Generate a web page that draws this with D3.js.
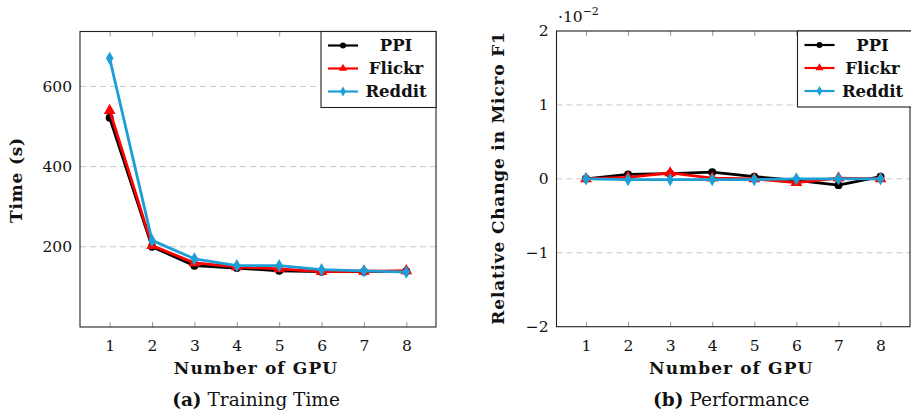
<!DOCTYPE html>
<html>
<head>
<meta charset="utf-8">
<script src="https://cdn.jsdelivr.net/npm/d3@7"></script>
<style>
  body { margin: 0; background: #fff; }
  svg text { font-family: "DejaVu Serif", "Liberation Serif", serif !important; fill: #111; }
</style>
</head>
<body>
<div id="vis"></div>
<script>

// number of GPUs (x axis, both panels)
var gpus = [1, 2, 3, 4, 5, 6, 7, 8];
var seriesNames = ['PPI', 'Flickr', 'Reddit'];

// (a) training time in seconds
var timePPI    = [522, 200, 153, 147, 140, 138, 138, 139];
var timeFlickr = [540, 203, 160, 150, 145, 138, 139, 140];
var timeReddit = [670, 216, 170, 153, 153, 143, 140, 137];
var timeTicks  = [200, 400, 600];

// (b) relative change in micro F1, in units of 1e-2
var f1PPI    = [0, 0.06, 0.07, 0.09, 0.03, -0.02, -0.085, 0.03];
var f1Flickr = [0, 0.02, 0.08, 0.01, 0, -0.05, 0.01, 0];
var f1Reddit = [0, -0.01, -0.01, -0.01, -0.01, 0, 0, 0];
var f1Ticks  = [-2, -1, 0, 1, 2];

var colors = { PPI: '#000000', Flickr: '#ff0000', Reddit: '#1c9fd4' };
var markers = { PPI: d3.symbolCircle, Flickr: d3.symbolTriangle, Reddit: d3.symbolDiamond };

var width = 911, height = 415;

var svg = d3.select('#vis').append('svg')
  .attr('width', width)
  .attr('height', height);

function drawPanel(cfg) {
  var x = d3.scaleLinear().domain([0.3, 8.7]).range([cfg.left, cfg.right]);
  var y = d3.scaleLinear().domain(cfg.yDomain).range([cfg.bottom, cfg.top]);

  var g = svg.append('g');

  // dashed horizontal grid
  g.selectAll('.grid')
    .data(cfg.yTicks.filter(function (t) { return y(t) > cfg.top + 1 && y(t) < cfg.bottom - 1; }))
    .enter().append('line')
    .attr('x1', cfg.left).attr('x2', cfg.right)
    .attr('y1', function (d) { return y(d); })
    .attr('y2', function (d) { return y(d); })
    .attr('stroke', '#c8c8c8')
    .attr('stroke-width', 1)
    .attr('stroke-dasharray', '6,4');

  // x axis (bottom) and top mirror ticks
  var xAxis = d3.axisBottom(x).tickValues(gpus).tickSize(-5).tickPadding(10).tickFormat(d3.format('d'));
  var gx = g.append('g').attr('transform', 'translate(0,' + cfg.bottom + ')').call(xAxis);
  gx.select('.domain').remove();
  gx.selectAll('.tick line').attr('stroke', '#999');
  gx.selectAll('.tick text').attr('font-size', 15.5).attr('dy', '0.9em');

  var gxTop = g.append('g').attr('transform', 'translate(0,' + cfg.top + ')')
    .call(d3.axisTop(x).tickValues(gpus).tickSize(-5).tickFormat(''));
  gxTop.select('.domain').remove();
  gxTop.selectAll('.tick line').attr('stroke', '#999');

  // y axis
  var yAxis = d3.axisLeft(y).tickValues(cfg.yTicks).tickSize(0).tickPadding(8)
    .tickFormat(function (d) { return d < 0 ? '\u2212' + Math.abs(d) : d; });
  var gy = g.append('g').attr('transform', 'translate(' + cfg.left + ',0)').call(yAxis);
  gy.select('.domain').remove();
  gy.selectAll('.tick text').attr('font-size', 15.5);

  // frame
  g.append('rect')
    .attr('x', cfg.left).attr('y', cfg.top)
    .attr('width', cfg.right - cfg.left).attr('height', cfg.bottom - cfg.top)
    .attr('fill', 'none').attr('stroke', '#222').attr('stroke-width', 1.1);

  // lines + markers
  var line = d3.line()
    .x(function (d, i) { return x(gpus[i]); })
    .y(function (d) { return y(d); });

  seriesNames.forEach(function (name) {
    var vals = cfg.series[name];
    g.append('path')
      .datum(vals)
      .attr('d', line)
      .attr('fill', 'none')
      .attr('stroke', colors[name])
      .attr('stroke-width', 2.8)
      .attr('stroke-linejoin', 'round');

    g.selectAll('.m-' + name)
      .data(vals)
      .enter().append('path')
      .attr('d', d3.symbol().type(markers[name]).size(name === 'Flickr' ? 60 : 50))
      .attr('transform', function (d, i) { return 'translate(' + x(gpus[i]) + ',' + y(d) + ')'; })
      .attr('fill', colors[name]);
  });

  // legend
  var lg = g.append('g').attr('transform', 'translate(' + cfg.legendX + ',' + cfg.top + ')');
  lg.append('rect')
    .attr('x', 0).attr('y', 0).attr('width', 115).attr('height', 76)
    .attr('fill', '#fff').attr('stroke', '#222').attr('stroke-width', 1.1);
  seriesNames.forEach(function (name, i) {
    var ly = 14 + i * 23;
    lg.append('line')
      .attr('x1', 7).attr('x2', 37).attr('y1', ly).attr('y2', ly)
      .attr('stroke', colors[name]).attr('stroke-width', 2.2);
    lg.append('path')
      .attr('d', d3.symbol().type(markers[name]).size(28))
      .attr('transform', 'translate(22,' + ly + ')')
      .attr('fill', colors[name]);
    lg.append('text')
      .attr('x', 75).attr('y', ly)
      .attr('dy', '0.35em')
      .attr('text-anchor', 'middle')
      .attr('font-size', 16.5)
      .attr('font-weight', 'bold')
      .text(name);
  });

  // axis titles
  g.append('text')
    .attr('x', (cfg.left + cfg.right) / 2 - 2).attr('y', 368)
    .attr('dy', '0.35em')
    .attr('text-anchor', 'middle')
    .attr('font-size', 17).attr('font-weight', 'bold')
    .attr('letter-spacing', 1.1)
    .text('Number of GPU');

  g.append('text')
    .attr('transform', 'translate(' + cfg.yTitleX + ',' + cfg.yTitleY + ') rotate(-90)')
    .attr('dy', '0.35em')
    .attr('text-anchor', 'middle')
    .attr('font-size', 17).attr('font-weight', 'bold')
    .attr('letter-spacing', 0.8)
    .text(cfg.yTitle);

  // caption
  var cap = g.append('text')
    .attr('x', (cfg.left + cfg.right) / 2 - 2).attr('y', 400)
    .attr('dy', '0.35em')
    .attr('text-anchor', 'middle')
    .attr('font-size', 18.5);
  cap.append('tspan').attr('font-weight', 'bold').text('(' + cfg.tag + ')');
  cap.append('tspan').text(' ' + cfg.caption);

  return g;
}

drawPanel({
  left: 80, right: 436, top: 31.5, bottom: 327,
  yDomain: [0, 737], yTicks: timeTicks,
  series: { PPI: timePPI, Flickr: timeFlickr, Reddit: timeReddit },
  legendX: 321,
  yTitle: 'Time (s)', yTitleX: 16, yTitleY: 180,
  tag: 'a', caption: 'Training Time'
});

var gb = drawPanel({
  left: 556.5, right: 910, top: 31, bottom: 326.7,
  yDomain: [-2, 2], yTicks: f1Ticks,
  series: { PPI: f1PPI, Flickr: f1Flickr, Reddit: f1Reddit },
  legendX: 797.5,
  yTitle: 'Relative Change in Micro F1', yTitleX: 498, yTitleY: 178,
  tag: 'b', caption: 'Performance'
});

// scale factor label
var sf = gb.append('text').attr('x', 558).attr('y', 22).attr('font-size', 15.5);
sf.append('tspan').text('\u00b710');
sf.append('tspan').attr('dy', -7).attr('font-size', 11).text('\u22122');

</script>
</body>
</html>
